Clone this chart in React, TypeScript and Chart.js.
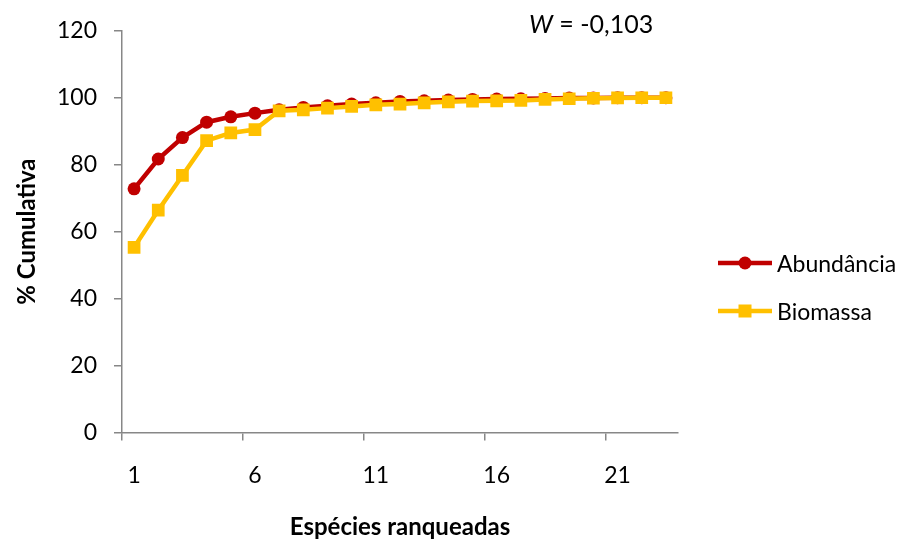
import React, { useEffect, useRef } from 'react';
import { Chart, registerables } from 'chart.js';

Chart.register(...registerables);

const categories = ['1','2','3','4','5','6','7','8','9','10','11','12','13','14','15','16','17','18','19','20','21','22','23'];
const abundancia = [72.8, 81.7, 88.1, 92.7, 94.3, 95.4, 96.4, 97.1, 97.6, 98.1, 98.5, 98.9, 99.1, 99.3, 99.5, 99.6, 99.7, 99.8, 99.9, 99.95, 100, 100, 100];
const biomassa = [55.3, 66.4, 76.8, 87.2, 89.5, 90.5, 96.1, 96.4, 96.9, 97.4, 97.9, 98.1, 98.5, 98.8, 99.0, 99.1, 99.2, 99.5, 99.7, 99.85, 99.95, 100, 100];
const xTickLabels = ['1', '6', '11', '16', '21'];
const yMin = 0;
const yMax = 120;
const yStep = 20;
const seriesNames = ['Abundância', 'Biomassa'];
const annotationLabel = { italic: 'W', rest: ' = -0,103' };

const RED = '#C00000';
const YELLOW = '#FFC000';
const AXIS = '#878787';
const FONT = 'Lato';

const overlayPlugin = {
  id: 'overlay',
  afterDraw(chart: any) {
    const ctx = chart.ctx;
    ctx.save();
    // annotation
    ctx.fillStyle = '#000';
    ctx.textBaseline = 'alphabetic';
    ctx.textAlign = 'left';
    ctx.font = `italic 25px ${FONT}`;
    const x0 = 529;
    ctx.fillText(annotationLabel.italic, x0, 33);
    const w = ctx.measureText(annotationLabel.italic).width;
    ctx.font = `25px ${FONT}`;
    ctx.fillText(annotationLabel.rest, x0 + w, 33);

    // legend
    const items = [
      { label: seriesNames[0], color: RED, style: 'circle', y: 263 },
      { label: seriesNames[1], color: YELLOW, style: 'rect', y: 311 },
    ];
    items.forEach((it) => {
      ctx.strokeStyle = it.color;
      ctx.lineWidth = 4.5;
      ctx.beginPath();
      ctx.moveTo(718, it.y);
      ctx.lineTo(772, it.y);
      ctx.stroke();
      ctx.fillStyle = it.color;
      if (it.style === 'circle') {
        ctx.beginPath();
        ctx.arc(745, it.y, 6.5, 0, Math.PI * 2);
        ctx.fill();
      } else {
        ctx.fillRect(745 - 6.5, it.y - 6.5, 13, 13);
      }
      ctx.fillStyle = '#000';
      ctx.font = `23px ${FONT}`;
      ctx.textBaseline = 'alphabetic';
      ctx.fillText(it.label, 777, it.y + 8.5);
    });
    ctx.restore();
  },
};

export default function App() {
  const canvasRef = useRef<HTMLCanvasElement | null>(null);

  useEffect(() => {
    const canvas = canvasRef.current;
    if (!canvas) return;
    const chart = new Chart(canvas, {
      type: 'line',
      data: {
        labels: categories,
        datasets: [
          {
            label: seriesNames[0],
            data: abundancia,
            borderColor: RED,
            backgroundColor: RED,
            borderWidth: 4.5,
            pointStyle: 'circle',
            pointRadius: 6.5,
            pointBorderWidth: 0,
            pointBackgroundColor: RED,
            tension: 0,
            order: 1,
          },
          {
            label: seriesNames[1],
            data: biomassa,
            borderColor: YELLOW,
            backgroundColor: YELLOW,
            borderWidth: 4.5,
            pointStyle: 'rect',
            pointRadius: 9,
            pointBorderWidth: 0,
            pointBackgroundColor: YELLOW,
            tension: 0,
            order: 0,
          },
        ],
      },
      options: {
        responsive: false,
        animation: false,
        devicePixelRatio: 1,
        layout: { padding: { left: 0, right: 230, top: 29.5, bottom: 0 } },
        plugins: {
          legend: { display: false },
          tooltip: { enabled: false },
        },
        scales: {
          x: {
            type: 'category',
            offset: true,
            afterFit: (scale: any) => { scale.height = 542 - 432.5; },
            grid: {
              offset: true,
              drawOnChartArea: false,
              drawTicks: true,
              tickLength: 8,
              lineWidth: 1.5,
              color: (c: any) => (typeof c.index === 'number' && c.index % 5 === 0 && c.index < categories.length ? AXIS : 'rgba(0,0,0,0)'),
            },
            border: { display: true, color: AXIS, width: 1.5 },
            ticks: {
              autoSkip: false,
              maxRotation: 0,
              minRotation: 0,
              padding: 21.6,
              color: '#000',
              font: { family: FONT, size: 23 },
              callback: (_v: any, i: number) => (xTickLabels.includes(categories[i]) ? categories[i] : ''),
            },
            title: {
              display: true,
              text: 'Espécies ranqueadas',
              color: '#000',
              font: { family: FONT, size: 24, weight: 'bold' },
              padding: { top: 0, bottom: 0 },
            },
          },
          y: {
            min: yMin,
            max: yMax,
            afterFit: (scale: any) => { scale.width = 122; },
            grid: {
              drawOnChartArea: false,
              drawTicks: true,
              tickLength: 8,
              lineWidth: 1.5,
              color: AXIS,
            },
            border: { display: true, color: AXIS, width: 1.5 },
            ticks: {
              stepSize: yStep,
              padding: 17,
              color: '#000',
              font: { family: FONT, size: 23 },
            },
            title: {
              display: true,
              text: '% Cumulativa',
              color: '#000',
              font: { family: FONT, size: 24, weight: 'bold' },
              padding: { top: 13, bottom: 0 },
            },
          },
        },
      },
      plugins: [overlayPlugin],
    });
    return () => chart.destroy();
  }, []);

  return (
    <div style={{ position: 'fixed', left: 0, top: 0, width: 908, height: 542, background: '#fff' }}>
      <canvas ref={canvasRef} width={908} height={542} style={{ display: 'block', width: 908, height: 542 }} />
    </div>
  );
}
